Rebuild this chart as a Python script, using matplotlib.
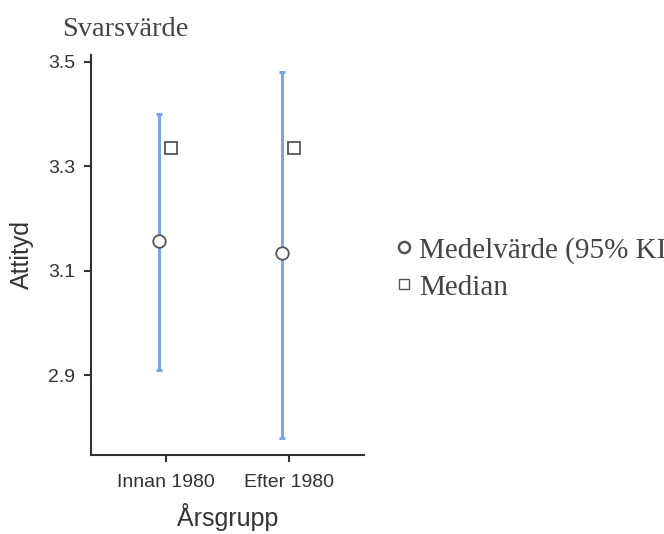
import matplotlib.pyplot as plt
from matplotlib.lines import Line2D

# Data
groups = ['Innan 1980', 'Efter 1980']
means = [3.157, 3.133]
ci_low = [2.91, 2.78]
ci_high = [3.40, 3.48]
medians = [3.334, 3.334]
y_ticks = [2.9, 3.1, 3.3, 3.5]

sans = ['Liberation Sans', 'DejaVu Sans']
serif = ['Liberation Serif', 'DejaVu Serif']
dark = '#333333'
blue = '#78a6e8'

fig = plt.figure(figsize=(6.64, 5.34), dpi=100)
ax = fig.add_axes([0.137, 0.148, 0.411, 0.749])

pos = list(range(len(groups)))
err_x = [p - 0.057 for p in pos]
med_x = [p + 0.045 for p in pos]
yerr = [[m - lo for m, lo in zip(means, ci_low)],
        [hi - m for m, hi in zip(means, ci_high)]]

ax.errorbar(err_x, means, yerr=yerr, fmt='none', ecolor=blue,
            elinewidth=2.2, capsize=2.5, capthick=2.2, zorder=2)
ax.plot(err_x, means, 'o', ms=9, mfc='white', mec='#555555', mew=1.3, zorder=3)
ax.plot(med_x, medians, 's', ms=8, mfc='white', mec='#555555', mew=1.3, zorder=3)

ax.set_xlim(-0.61, 1.61)
ax.set_ylim(2.747, 3.513)
ax.set_xticks(pos)
ax.set_xticklabels(groups, family=sans, fontsize=14, color=dark)
ax.set_yticks(y_ticks)
ax.set_yticklabels([f'{v:.1f}' for v in y_ticks], family=sans, fontsize=14, color=dark)
ax.tick_params(length=5, width=1.5, color=dark)
ax.tick_params(axis='x', pad=9)
ax.tick_params(axis='y', pad=6.5)

for side in ['top', 'right']:
    ax.spines[side].set_visible(False)
for side in ['left', 'bottom']:
    ax.spines[side].set_linewidth(1.5)
    ax.spines[side].set_color(dark)

ax.set_xlabel('Årsgrupp', family=sans, fontsize=18, color=dark, labelpad=8)
ax.set_ylabel('Attityd', family=sans, fontsize=18, color=dark, labelpad=10)

fig.text(0.093, 0.932, 'Svarsvärde', family=serif, fontsize=20.5, color='#444444')

handles = [
    Line2D([], [], ls='none', marker='o', ms=8, mfc='white', mec='#555555', mew=1.8),
    Line2D([], [], ls='none', marker='s', ms=7, mfc='white', mec='#555555', mew=1.0),
]
fig.legend(handles, ['Medelvärde (95% KI)', 'Median'], loc='upper left',
           bbox_to_anchor=(0.551, 0.606), frameon=False, handlelength=0.8,
           handletextpad=0.12, labelspacing=0.36,
           prop={'family': serif, 'size': 21}, labelcolor='#444444')

fig.savefig('out.png', dpi=100)
